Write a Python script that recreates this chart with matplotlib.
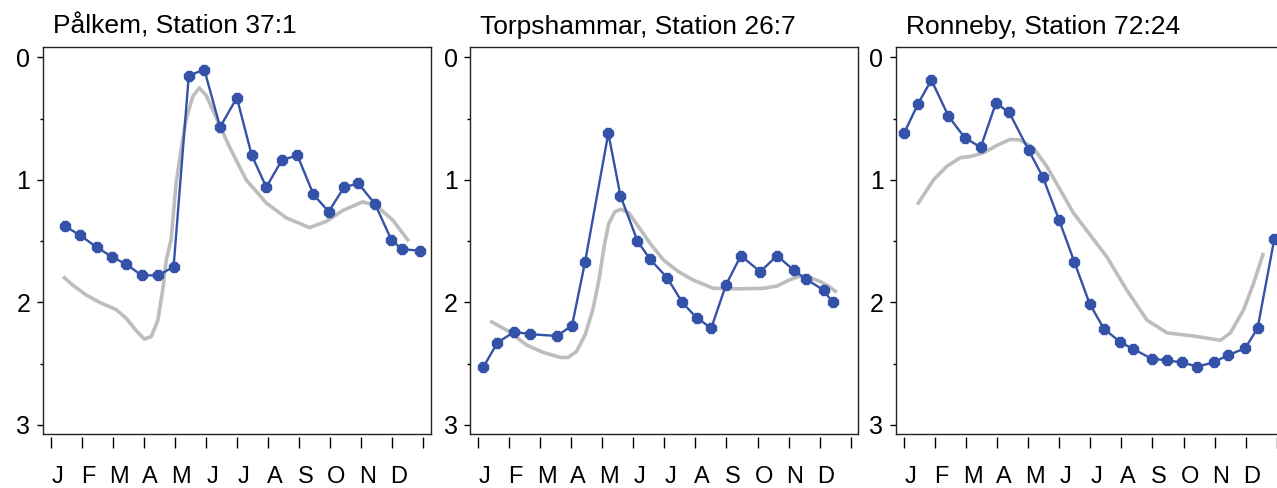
import matplotlib
matplotlib.use("Agg")
import matplotlib.pyplot as plt
from matplotlib.ticker import FixedLocator, NullFormatter

plt.rcParams['font.family'] = ['Liberation Sans', 'DejaVu Sans']

months = ['J', 'F', 'M', 'A', 'M', 'J', 'J', 'A', 'S', 'O', 'N', 'D']

# --- Pålkem ---
palkem_title = 'Pålkem, Station 37:1'
palkem_x = [0.45, 0.92, 1.47, 1.97, 2.43, 2.92, 3.46, 3.95, 4.44, 4.94, 5.45, 5.99,
            6.47, 6.94, 7.44, 7.94, 8.46, 8.95, 9.45, 9.91, 10.45, 10.97, 11.31, 11.90]
palkem_y = [1.38, 1.45, 1.55, 1.63, 1.69, 1.78, 1.78, 1.71, 0.15, 0.10, 0.57, 0.33,
            0.80, 1.06, 0.84, 0.80, 1.12, 1.26, 1.06, 1.03, 1.20, 1.49, 1.565, 1.58]
palkem_ref_x = [0.43, 0.70, 1.13, 1.56, 2.10, 2.42, 2.74, 3.01, 3.23, 3.44, 3.60, 3.71,
                3.87, 4.03, 4.19, 4.35, 4.57, 4.78, 5.00, 5.32, 5.75, 6.29, 6.94, 7.58,
                8.33, 8.87, 9.41, 10.05, 10.48, 11.02, 11.50]
palkem_ref_y = [1.80, 1.86, 1.94, 2.00, 2.06, 2.13, 2.23, 2.30, 2.28, 2.15, 1.90, 1.66,
                1.49, 1.03, 0.76, 0.51, 0.32, 0.25, 0.31, 0.49, 0.73, 1.00, 1.19, 1.31,
                1.39, 1.34, 1.25, 1.18, 1.21, 1.33, 1.49]

# --- Torpshammar ---
torp_title = 'Torpshammar, Station 26:7'
torp_x = [0.16, 0.61, 1.16, 1.65, 2.53, 3.02, 3.44, 4.19, 4.58, 5.13, 5.54, 6.09,
          6.57, 7.05, 7.51, 7.98, 8.46, 9.09, 9.63, 10.18, 10.56, 11.13, 11.42]
torp_y = [2.53, 2.33, 2.24, 2.26, 2.275, 2.19, 1.67, 0.62, 1.13, 1.50, 1.65, 1.80,
          2.00, 2.13, 2.21, 1.86, 1.62, 1.75, 1.62, 1.74, 1.81, 1.90, 2.00]
torp_ref_x = [0.43, 1.00, 1.56, 2.10, 2.64, 2.90, 3.17, 3.45, 3.70, 3.90, 4.05, 4.20,
              4.40, 4.60, 4.85, 5.10, 5.54, 5.97, 6.45, 6.94, 7.58, 8.40, 9.19, 9.63,
              10.00, 10.38, 10.70, 11.02, 11.30, 11.51]
torp_ref_y = [2.16, 2.24, 2.35, 2.41, 2.45, 2.45, 2.40, 2.26, 2.05, 1.80, 1.55, 1.36,
              1.26, 1.24, 1.27, 1.36, 1.52, 1.655, 1.75, 1.82, 1.886, 1.89, 1.886, 1.867,
              1.82, 1.785, 1.80, 1.83, 1.87, 1.91]

# --- Ronneby ---
ronn_title = 'Ronneby, Station 72:24'
ronn_x = [0.00, 0.43, 0.87, 1.42, 1.94, 2.46, 2.95, 3.38, 4.01, 4.46, 4.99, 5.48,
          5.97, 6.43, 6.96, 7.37, 7.97, 8.47, 8.95, 9.45, 9.97, 10.45, 10.99, 11.39, 11.93]
ronn_y = [0.615, 0.385, 0.185, 0.48, 0.655, 0.735, 0.375, 0.45, 0.76, 0.975, 1.33, 1.67,
          2.01, 2.215, 2.325, 2.38, 2.46, 2.475, 2.49, 2.525, 2.49, 2.43, 2.375, 2.21, 1.48]
ronn_ref_x = [0.45, 0.94, 1.37, 1.80, 2.12, 2.55, 2.98, 3.41, 3.73, 4.16, 4.59, 5.02,
              5.45, 5.99, 6.53, 7.17, 7.82, 8.47, 9.32, 10.19, 10.51, 10.94, 11.26, 11.56]
ronn_ref_y = [1.19, 1.00, 0.89, 0.82, 0.81, 0.78, 0.72, 0.67, 0.675, 0.74, 0.89, 1.08,
              1.27, 1.45, 1.63, 1.90, 2.145, 2.25, 2.275, 2.31, 2.25, 2.06, 1.845, 1.61]

panels = [
    (palkem_title, palkem_x, palkem_y, palkem_ref_x, palkem_ref_y),
    (torp_title, torp_x, torp_y, torp_ref_x, torp_ref_y),
    (ronn_title, ronn_x, ronn_y, ronn_ref_x, ronn_ref_y),
]

W, H = 1277, 488
fig = plt.figure(figsize=(W / 100, H / 100), dpi=100)

lefts = [42.7, 470, 896]
ax_w = 388
ax_top, ax_bot = 46.5, 434

for left, (title, x, y, rx, ry) in zip(lefts, panels):
    ax = fig.add_axes([left / W, (H - ax_bot) / H, ax_w / W, (ax_bot - ax_top) / H])
    ax.plot(rx, ry, color='#bdbdbd', lw=2.6, solid_joinstyle='round', zorder=2)
    ax.plot(x, y, color='#3352a8', lw=1.7, marker='8', ms=8, zorder=3)
    ax.set_xlim(-0.27, 12.24)
    ax.set_ylim(3.075, -0.088)
    for sp in ax.spines.values():
        sp.set_linewidth(1.0)
        sp.set_color('#222222')

    ax.set_xticks([])
    ax.set_yticks([0, 1, 2, 3])
    ax.set_yticklabels(['0', '1', '2', '3'])
    ax.yaxis.set_minor_locator(FixedLocator([0.5, 1.5, 2.5]))
    ax.tick_params(axis='y', which='major', length=4, width=1, pad=5, labelsize=18)
    ax.tick_params(axis='y', which='minor', length=2, width=1)

    # month ticks detached below the box
    sec = ax.secondary_xaxis(-3 / (ax_bot - ax_top))
    sec.spines['bottom'].set_visible(False)
    sec.set_xticks(range(13))
    sec.xaxis.set_major_formatter(NullFormatter())
    sec.xaxis.set_minor_locator(FixedLocator([m + 0.2 for m in range(12)]))
    sec.set_xticklabels(months, minor=True)
    sec.tick_params(axis='x', which='major', length=8, width=1, direction='out')
    sec.tick_params(axis='x', which='minor', length=0, pad=21, labelsize=17)

    ax.text(10 / ax_w, 1 + 13 / (ax_bot - ax_top), title, transform=ax.transAxes,
            fontsize=19, ha='left', va='baseline')

fig.savefig('out.png', dpi=100)
